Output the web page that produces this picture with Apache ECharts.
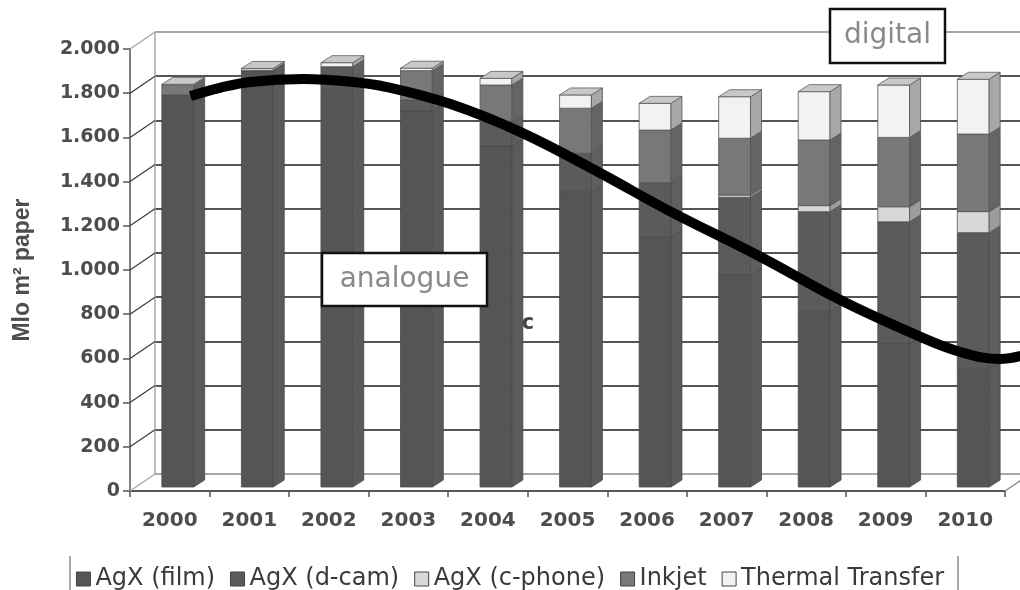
<!DOCTYPE html>
<html>
<head>
<meta charset="utf-8">
<script src="https://cdn.jsdelivr.net/npm/echarts@6/dist/echarts.min.js"></script>
<style>
  html, body { margin: 0; padding: 0; background: #ffffff; }
  #chart { width: 1020px; height: 590px; }
</style>
</head>
<body>
<div id="chart"></div>
<script>
// Years on the category axis
const years = ['2000', '2001', '2002', '2003', '2004', '2005', '2006', '2007', '2008', '2009', '2010'];

// Paper volume per technology (Mlo m²), stacked bottom to top
const agxFilm    = [1774, 1880, 1804, 1701, 1543, 1336, 1133,  959,  793,  650,  537];
const agxDcam    = [   0,    6,   98,   50,  110,  174,  244,  352,  453,  550,  614];
const agxCphone  = [   0,    0,    0,    0,    0,    0,    0,   10,   27,   68,   95];
const inkjet     = [  43,    0,    0,  133,  166,  204,  238,  257,  297,  314,  351];
const thermal    = [   5,    8,   18,   11,   30,   60,  121,  188,  219,  237,  248];

const seriesNames = ['AgX (film)', 'AgX (d-cam)', 'AgX (c-phone)', 'Inkjet', 'Thermal Transfer'];
const layers = [agxFilm, agxDcam, agxCphone, inkjet, thermal];

// Value-axis ticks and their printed labels
const yTicks = [0, 200, 400, 600, 800, 1000, 1200, 1400, 1600, 1800, 2000];
const yTickLabels = ['0', '200', '400', '600', '800', '1.000', '1.200', '1.400', '1.600', '1.800', '2.000'];

// Analogue / digital divide: x in year index units, y in Mlo m²
const divideX = [0.26, 0.63, 1.01, 1.68, 2.27, 2.73, 3.53, 4.41, 5.41, 6.26, 7.43, 8.43, 9.44, 9.94, 10.44, 10.70];
const divideY = [1787, 1824, 1851, 1864, 1852, 1828, 1751, 1624, 1439, 1271, 1059,  864,  697,  629,  597,  611];

// Face colours per layer
const faceColors = [
  { front: '#555555', side: '#5a5a5a', stroke: '#4a4a4a' },
  { front: '#5b5b5b', side: '#5f5f5f', stroke: '#4a4a4a' },
  { front: '#d8d8d8', side: '#9c9c9c', stroke: '#555555' },
  { front: '#787878', side: '#646464', stroke: '#555555' },
  { front: '#f2f2f2', side: '#a8a8a8', stroke: '#555555' }
];
const TOP_FACE = '#c8c8c8';

// Plot frame (front plane) and oblique depth of the walls and columns
const CHART_W = 1020;
const GRID_LEFT = 130, GRID_RIGHT = 15, GRID_TOP = 49, GRID_BOTTOM = 99;
const WALL_DX = 25, WALL_DY = -17;
const BAR_DX = 11, BAR_DY = -7;
const BAR_SHIFT_X = 8, BAR_SHIFT_Y = -4;
const BAR_RATIO = 0.40;

// The divide runs on to the right edge, so its grid spans the full width
// with an x range scaled to keep one year per category band.
const plotW = CHART_W - GRID_LEFT - GRID_RIGHT;
const curveXMax = -0.5 + years.length * (CHART_W - GRID_LEFT) / plotW;

const chart = echarts.init(document.getElementById('chart'), null, { renderer: 'canvas' });

function layerRenderer(k) {
  return function (params, api) {
    const i = api.value(0);
    const v = api.value(1);
    if (!v) return null;
    let base = 0;
    for (let j = 0; j < k; j++) base += layers[j][i];
    const top = base + v;
    let isTop = true;
    for (let j = k + 1; j < layers.length; j++) if (layers[j][i] > 0) isTop = false;
    const pB = api.coord([i, base]);
    const pT = api.coord([i, top]);
    const band = api.size([1, 0])[0];
    const w = band * BAR_RATIO;
    const x0 = pB[0] - w / 2 + BAR_SHIFT_X;
    const yB = pB[1] + BAR_SHIFT_Y;
    const yT = pT[1] + BAR_SHIFT_Y;
    const c = faceColors[k];
    const children = [
      {
        type: 'rect',
        shape: { x: x0, y: yT, width: w, height: yB - yT },
        style: { fill: c.front, stroke: c.stroke, lineWidth: 0.8 }
      },
      {
        type: 'polygon',
        shape: { points: [[x0 + w, yB], [x0 + w + BAR_DX, yB + BAR_DY], [x0 + w + BAR_DX, yT + BAR_DY], [x0 + w, yT]] },
        style: { fill: c.side, stroke: c.stroke, lineWidth: 0.8 }
      }
    ];
    if (isTop) {
      children.push({
        type: 'polygon',
        shape: { points: [[x0, yT], [x0 + BAR_DX, yT + BAR_DY], [x0 + w + BAR_DX, yT + BAR_DY], [x0 + w, yT]] },
        style: { fill: TOP_FACE, stroke: '#5a5a5a', lineWidth: 0.8 }
      });
    }
    return { type: 'group', children: children };
  };
}

const barSeries = layers.map(function (arr, k) {
  return {
    name: seriesNames[k],
    type: 'custom',
    xAxisIndex: 0,
    yAxisIndex: 0,
    z: 3,
    itemStyle: { color: faceColors[k].front },
    renderItem: layerRenderer(k),
    data: arr.map(function (v, i) { return [i, v]; })
  };
});

// Side-wall and floor edges running from the front axis back to the rear wall
const wallSeries = {
  type: 'custom',
  xAxisIndex: 1,
  yAxisIndex: 0,
  z: 1,
  silent: true,
  renderItem: function (params, api) {
    const x = api.value(0);
    const v = api.value(1);
    const p = api.coord([x, v]);
    const edge = (v === yTicks[0] || v === yTicks[yTicks.length - 1]);
    const children = [{
      type: 'line',
      shape: { x1: p[0], y1: p[1], x2: p[0] + WALL_DX, y2: p[1] + WALL_DY },
      style: { stroke: edge ? '#a8a8a8' : '#3a3a3a', lineWidth: edge ? 1.5 : 1.2 }
    }];
    if (v === yTicks[0]) {
      const pr = api.coord([years.length - 0.5, v]);
      children.push({
        type: 'line',
        shape: { x1: pr[0], y1: pr[1], x2: pr[0] + WALL_DX, y2: pr[1] + WALL_DY },
        style: { stroke: '#8a8a8a', lineWidth: 1.5 }
      });
    }
    return { type: 'group', children: children };
  },
  data: yTicks.map(function (v) { return [-0.5, v]; })
};

const gridColors = yTicks.map(function (v, i) {
  return (i === 0 || i === yTicks.length - 1) ? '#a8a8a8' : '#555555';
});

const option = {
  backgroundColor: '#ffffff',
  animation: false,
  grid: [
    { left: GRID_LEFT, right: GRID_RIGHT, top: GRID_TOP, bottom: GRID_BOTTOM },
    { left: GRID_LEFT + WALL_DX, width: plotW, top: GRID_TOP + WALL_DY, bottom: GRID_BOTTOM - WALL_DY },
    { left: GRID_LEFT, right: 0, top: GRID_TOP, bottom: GRID_BOTTOM }
  ],
  xAxis: [
    {
      type: 'category',
      gridIndex: 0,
      data: years,
      boundaryGap: true,
      axisLine: { show: true, onZero: false, lineStyle: { color: '#555555', width: 2 } },
      axisTick: { show: true, length: 6, interval: 0, lineStyle: { color: '#555555', width: 1.5 } },
      axisLabel: {
        margin: 20,
        fontFamily: 'DejaVu Sans',
        fontWeight: 'bold',
        fontSize: 20,
        color: '#4d4d4d'
      },
      splitLine: { show: false }
    },
    {
      type: 'value',
      gridIndex: 0,
      min: -0.5,
      max: 10.5,
      show: false,
      axisLine: { onZero: false }
    },
    {
      type: 'category',
      gridIndex: 1,
      data: years,
      show: false,
      axisLine: { onZero: false }
    },
    {
      type: 'value',
      gridIndex: 2,
      min: -0.5,
      max: curveXMax,
      show: false,
      axisLine: { onZero: false }
    }
  ],
  yAxis: [
    {
      type: 'value',
      gridIndex: 0,
      min: 0,
      max: 2000,
      interval: 200,
      name: 'Mlo m² paper',
      nameLocation: 'middle',
      nameRotate: 90,
      nameGap: 96,
      nameTextStyle: {
        fontFamily: 'Liberation Sans',
        fontWeight: 'bold',
        fontSize: 23,
        color: '#4d4d4d'
      },
      axisLine: { show: true, onZero: false, lineStyle: { color: '#555555', width: 1.5 } },
      axisTick: { show: true, length: 7, lineStyle: { color: '#555555', width: 1.5 } },
      axisLabel: {
        margin: 10,
        fontFamily: 'DejaVu Sans',
        fontWeight: 'bold',
        fontSize: 19,
        color: '#4d4d4d',
        formatter: function (v) {
          const idx = yTicks.indexOf(v);
          return idx >= 0 ? yTickLabels[idx] : '';
        }
      },
      splitLine: { show: false }
    },
    {
      type: 'value',
      gridIndex: 1,
      min: 0,
      max: 2000,
      interval: 200,
      axisLine: { show: true, onZero: false, lineStyle: { color: '#a8a8a8', width: 1.5 } },
      axisTick: { show: false },
      axisLabel: { show: false },
      splitLine: { show: true, lineStyle: { color: gridColors, width: 2 } }
    },
    {
      type: 'value',
      gridIndex: 2,
      min: 0,
      max: 2000,
      show: false,
      axisLine: { onZero: false }
    }
  ],
  legend: {
    data: seriesNames,
    left: 'center',
    top: 562,
    icon: 'rect',
    itemWidth: 14,
    itemHeight: 14,
    itemGap: 15,
    itemStyle: { borderColor: '#444444', borderWidth: 1 },
    textStyle: { fontFamily: 'DejaVu Sans', fontSize: 24, color: '#3a3a3a' },
    selectedMode: false
  },
  graphic: [
    { type: 'line', z: 30, shape: { x1: 70, y1: 556, x2: 70, y2: 592 }, style: { stroke: '#555555', lineWidth: 1 } },
    { type: 'line', z: 30, shape: { x1: 958, y1: 556, x2: 958, y2: 592 }, style: { stroke: '#555555', lineWidth: 1 } },
    { type: 'rect', z: 30, shape: { x: 322, y: 253, width: 165, height: 53 }, style: { fill: '#ffffff', stroke: '#111111', lineWidth: 2.5 } },
    { type: 'text', z: 31, x: 404.5, y: 280, style: { text: 'analogue', font: '28px "DejaVu Sans"', fill: '#8a8a8a', textAlign: 'center', textVerticalAlign: 'middle' } },
    { type: 'rect', z: 30, shape: { x: 830, y: 9, width: 115, height: 54 }, style: { fill: '#ffffff', stroke: '#111111', lineWidth: 2.5 } },
    { type: 'text', z: 31, x: 887.5, y: 36, style: { text: 'digital', font: '28px "DejaVu Sans"', fill: '#8a8a8a', textAlign: 'center', textVerticalAlign: 'middle' } },
    { type: 'text', z: 31, x: 528, y: 324, style: { text: 'c', font: 'bold 21px "DejaVu Sans"', fill: '#444444', textAlign: 'center', textVerticalAlign: 'middle' } }
  ],
  series: [wallSeries].concat(barSeries).concat([
    {
      type: 'line',
      xAxisIndex: 3,
      yAxisIndex: 2,
      z: 8,
      smooth: 0.4,
      clip: false,
      symbol: 'none',
      silent: true,
      lineStyle: { color: '#000000', width: 10, cap: 'butt' },
      data: divideX.map(function (x, i) { return [x, divideY[i]]; })
    }
  ])
};

chart.setOption(option);
</script>
</body>
</html>
